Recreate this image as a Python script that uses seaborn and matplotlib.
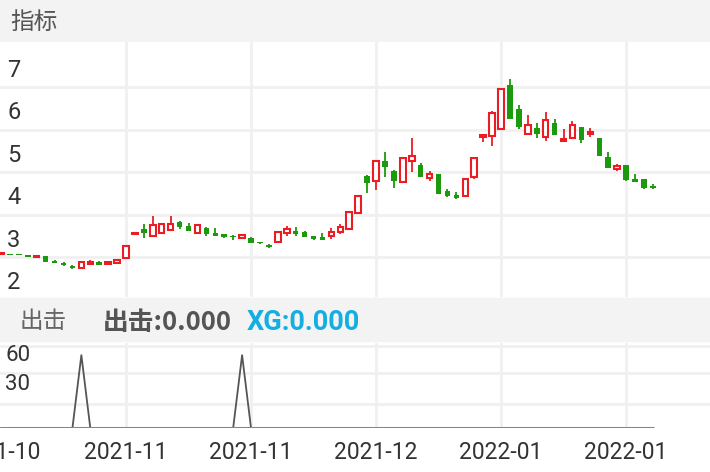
import matplotlib
matplotlib.use("Agg")
import matplotlib.pyplot as plt
from matplotlib.patches import Rectangle
import numpy as np
import pandas as pd
import seaborn as sns

# daily candles (open, high, low, close)
opens = [2.69, 2.67, 2.66, 2.64, 2.60, 2.63, 2.52, 2.47, 2.40, 2.36,
         2.44, 2.50, 2.44, 2.47, 2.58, 3.16, 3.27, 3.10, 3.18, 3.24,
         3.44, 3.34, 3.18, 3.28, 3.18, 3.14, 3.11, 3.06, 3.06, 2.96,
         2.90, 2.97, 3.18, 3.22, 3.20, 3.10, 3.07, 3.10, 3.19, 3.27,
         3.65, 4.52, 4.39, 4.87, 4.63, 4.36, 4.86, 4.77, 4.47, 4.56,
         4.17, 4.07, 4.05, 4.48, 5.44, 5.45, 5.62, 6.65, 6.09, 5.49,
         5.63, 5.42, 5.76, 5.33, 5.40, 5.66, 5.50, 5.40, 4.95, 4.68,
         4.76, 4.45, 4.44, 4.28]
highs = [2.71, 2.68, 2.67, 2.65, 2.63, 2.63, 2.53, 2.49, 2.42, 2.51,
         2.53, 2.51, 2.50, 2.53, 2.87, 3.18, 3.38, 3.57, 3.42, 3.57,
         3.46, 3.41, 3.35, 3.31, 3.28, 3.16, 3.12, 3.16, 3.09, 2.97,
         2.91, 3.20, 3.34, 3.31, 3.21, 3.11, 3.17, 3.30, 3.38, 3.68,
         4.06, 4.53, 4.87, 5.07, 4.65, 4.95, 5.41, 4.82, 4.64, 4.57,
         4.21, 4.13, 4.46, 4.94, 5.48, 6.05, 6.56, 6.79, 6.18, 5.94,
         5.76, 6.02, 5.86, 5.62, 5.80, 5.67, 5.63, 5.41, 5.08, 4.80,
         4.77, 4.56, 4.45, 4.33]
lows = [2.68, 2.66, 2.65, 2.62, 2.59, 2.49, 2.46, 2.40, 2.33, 2.35,
        2.42, 2.43, 2.43, 2.46, 2.57, 3.15, 3.06, 3.08, 3.16, 3.23,
        3.27, 3.21, 3.17, 3.10, 3.10, 3.06, 3.01, 3.04, 2.93, 2.92,
        2.83, 2.96, 3.10, 3.10, 3.07, 3.01, 3.01, 3.03, 3.15, 3.26,
        3.64, 4.12, 4.18, 4.50, 4.24, 4.35, 4.60, 4.48, 4.39, 4.09,
        4.01, 3.98, 4.04, 4.45, 5.32, 5.22, 5.61, 5.84, 5.61, 5.48,
        5.40, 5.34, 5.47, 5.32, 5.39, 5.28, 5.43, 4.98, 4.70, 4.64,
        4.40, 4.36, 4.21, 4.20]
closes = [2.71, 2.66, 2.65, 2.62, 2.62, 2.49, 2.46, 2.41, 2.35, 2.50,
          2.50, 2.43, 2.50, 2.53, 2.87, 3.18, 3.17, 3.36, 3.38, 3.38,
          3.32, 3.23, 3.35, 3.14, 3.11, 3.09, 3.07, 3.12, 2.94, 2.93,
          2.84, 3.19, 3.27, 3.14, 3.08, 3.03, 3.02, 3.20, 3.32, 3.67,
          4.05, 4.34, 4.87, 4.73, 4.40, 4.93, 4.98, 4.49, 4.57, 4.10,
          4.05, 4.00, 4.45, 4.93, 5.47, 6.00, 6.55, 5.85, 5.67, 5.71,
          5.50, 5.82, 5.48, 5.37, 5.71, 5.36, 5.55, 4.98, 4.71, 4.74,
          4.41, 4.38, 4.22, 4.23]

# lower indicator: 出击 spikes and XG line
chuji = [0] * 74
chuji[9] = 60
chuji[27] = 60
xg = [0] * 74

price_labels = [7, 6, 5, 4, 3, 2]
price_grid = [6.6, 5.6, 4.6, 3.6, 2.6]
date_pos = [-0.3, 14, 28, 42, 56, 70]
date_labels = ["2021-10", "2021-11", "2021-11", "2021-12", "2022-01", "2022-01"]

df = pd.DataFrame({"i": np.arange(74), "open": opens, "high": highs,
                   "low": lows, "close": closes, "chuji": chuji, "xg": xg})

sns.set_style("white")
plt.rcParams["font.family"] = ["Roboto", "Noto Sans CJK SC", "DejaVu Sans"]

W, H = 710, 472
fig = plt.figure(figsize=(W / 100, H / 100), dpi=100)


def px_axes(top, bottom):
    return fig.add_axes([0, 1 - bottom / H, 1, (bottom - top) / H])


GREY = "#f3f3f3"
GRID = "#f0f0f0"
RED = "#ec1c24"
GREEN = "#1a9a0c"
BLUE = "#14aee2"

for y0, y1 in [(0, 42), (298, 341)]:
    fig.add_artist(Rectangle((0, 1 - y1 / H), 1, (y1 - y0) / H,
                             transform=fig.transFigure, color=GREY, zorder=0))

xlim = (-0.112, 79.4)

# main candle panel
ax = px_axes(42, 297)
ax.set_xlim(*xlim)
ax.set_ylim(1.67, 7.66)
for g in price_grid:
    ax.axhline(g, color=GRID, lw=2, zorder=0)
for p in date_pos[1:]:
    ax.axvline(p, color=GRID, lw=2, zorder=0)

up = df["close"] >= df["open"]
ax.vlines(df["i"], df["low"], df["high"], colors=np.where(up, RED, GREEN), lw=1.3, zorder=2)
body_lo = df[["open", "close"]].min(axis=1)
body_h = (df["close"] - df["open"]).abs().clip(lower=0.025)
ax.bar(df["i"][up], body_h[up], bottom=body_lo[up], width=0.62,
       facecolor="white", edgecolor=RED, lw=1.5, zorder=3)
ax.bar(df["i"][~up], body_h[~up], bottom=body_lo[~up], width=0.62,
       color=GREEN, lw=0, zorder=3)
for v in price_labels:
    ax.text(0.7, v, str(v), fontsize=17, color="#333333", va="center", ha="left")
ax.set_xticks([])
ax.set_yticks([])
for s in ax.spines.values():
    s.set_visible(False)

# lower indicator panel
ax2 = px_axes(343, 428)
ax2.set_xlim(*xlim)
ax2.set_ylim(0, 70)
for g in [67.5, 45.5, 19.5]:
    ax2.axhline(g, color=GRID, lw=2, zorder=0)
for p in date_pos[1:]:
    ax2.axvline(p, color=GRID, lw=2, zorder=0)
sns.lineplot(data=df, x="i", y="chuji", ax=ax2, color="#555555", lw=1.3)
sns.lineplot(data=df, x="i", y="xg", ax=ax2, color=BLUE, lw=2.2)
ax2.text(0.5, 60, "60", fontsize=16, color="#333333", va="center")
ax2.text(0.5, 36, "30", fontsize=16, color="#333333", va="center")
for p, lab in zip(date_pos, date_labels):
    ax2.text(p, -20, lab, fontsize=16.5, color="#333333", ha="center", va="center",
             clip_on=False)
ax2.set_xticks([])
ax2.set_yticks([])
ax2.set_xlabel("")
ax2.set_ylabel("")
for s in ax2.spines.values():
    s.set_visible(False)

fam = ["Noto Sans CJK SC", "DejaVu Sans"]
fig.text(10 / W, 1 - 22 / H, "指标", fontsize=17, color="#555555", va="center", family=fam)
fig.text(20 / W, 1 - 322 / H, "出击", fontsize=17, color="#666666", va="center", family=fam)
fig.text(103 / W, 1 - 322 / H, "出击:0.000", fontsize=18.5, color="#555555",
         va="center", weight="bold", family=fam)
fig.text(247 / W, 1 - 322 / H, "XG:0.000", fontsize=19.5, color=BLUE,
         va="center", weight="bold", family=["Roboto", "DejaVu Sans"])

fig.savefig("out.png", dpi=100)
